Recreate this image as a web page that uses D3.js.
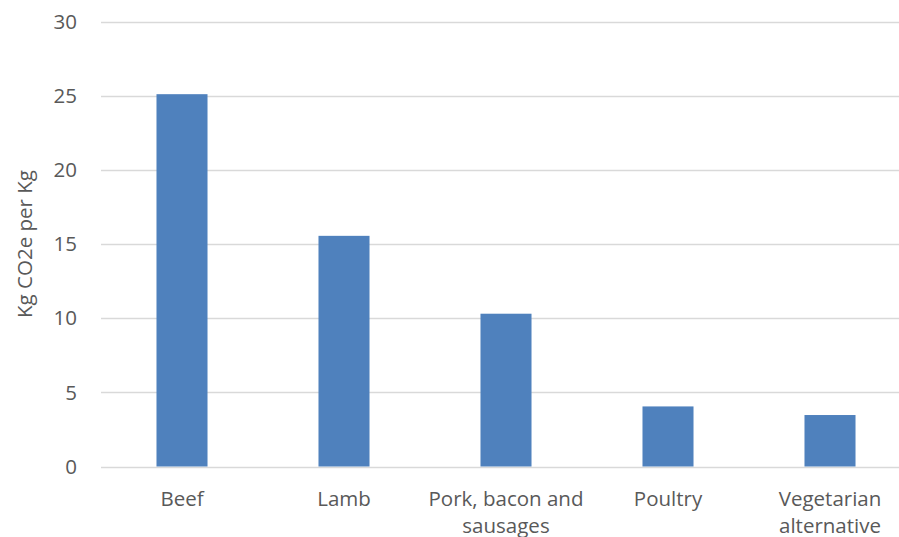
<!DOCTYPE html>
<html>
<head>
<meta charset="utf-8">
<script src="https://cdn.jsdelivr.net/npm/d3@7"></script>
<style>
  body { margin: 0; background: #fff; }
  text { font-family: "Open Sans", sans-serif; fill: #595959; }
</style>
</head>
<body>
<div id="chart"></div>
<script>
const categories = ["Beef", "Lamb", "Pork, bacon and sausages", "Poultry", "Vegetarian alternative"];
const labelLines = [["Beef"], ["Lamb"], ["Pork, bacon and", "sausages"], ["Poultry"], ["Vegetarian", "alternative"]];
const values = [25.1, 15.55, 10.3, 4.05, 3.47];
const yTicks = [0, 5, 10, 15, 20, 25, 30];

const width = 899, height = 537;
const svg = d3.select("#chart").append("svg")
  .attr("width", width)
  .attr("height", height);

const x = d3.scaleBand()
  .domain(categories)
  .range([101, 911])
  .paddingInner(0.685)
  .paddingOuter(0.3425);

const y = d3.scaleLinear()
  .domain([0, 30])
  .range([466.5, 21.5]);

// gridlines
svg.append("g")
  .selectAll("line")
  .data(yTicks)
  .enter().append("line")
  .attr("x1", 101)
  .attr("x2", width)
  .attr("y1", d => Math.round(y(d)) + 0.5)
  .attr("y2", d => Math.round(y(d)) + 0.5)
  .attr("stroke", "#d9d9d9")
  .attr("stroke-width", 1.3);

// y tick labels
svg.append("g")
  .selectAll("text")
  .data(yTicks)
  .enter().append("text")
  .attr("x", 77)
  .attr("y", d => y(d))
  .attr("dy", "0.35em")
  .attr("text-anchor", "end")
  .style("font-size", "20.5px")
  .text(d => d);

// bars
svg.append("g")
  .selectAll("rect")
  .data(values)
  .enter().append("rect")
  .attr("x", (d, i) => x(categories[i]))
  .attr("width", x.bandwidth())
  .attr("y", d => y(d))
  .attr("height", d => y(0) - y(d))
  .attr("fill", "#4f81bd");

// x labels, one text per line
labelLines.forEach((lines, i) => {
  lines.forEach((line, j) => {
    svg.append("text")
      .attr("x", x(categories[i]) + x.bandwidth() / 2)
      .attr("y", 506 + j * 27)
      .attr("text-anchor", "middle")
      .style("font-size", "20.5px")
      .text(line);
  });
});

// y axis title
svg.append("text")
  .attr("transform", "translate(32,244) rotate(-90)")
  .attr("text-anchor", "middle")
  .style("font-size", "20.5px")
  .text("Kg CO2e per Kg");
</script>
</body>
</html>
